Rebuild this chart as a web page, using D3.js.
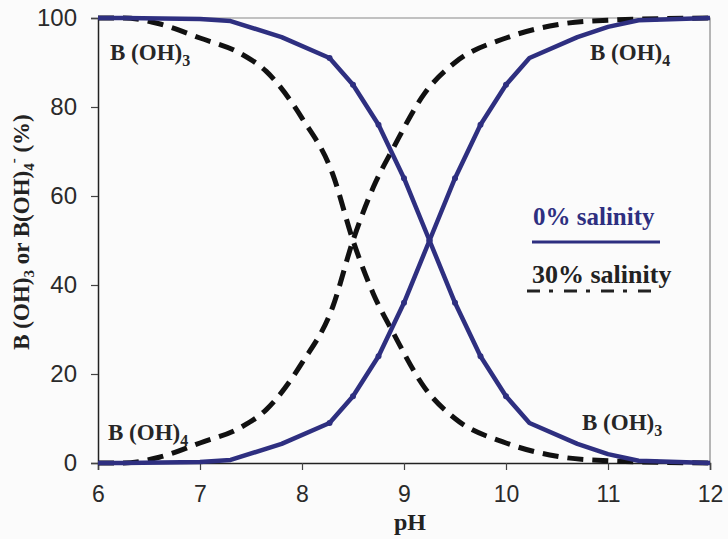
<!DOCTYPE html>
<html>
<head>
<meta charset="utf-8">
<script src="https://cdn.jsdelivr.net/npm/d3@7"></script>
<style>
  body { margin: 0; background: #fbfbfb; }
  svg { display: block; }
</style>
</head>
<body>
<div id="chart"></div>
<script>
// 0% salinity (solid) curves
var phFresh = [6, 6.25, 7.0, 7.3, 7.8, 8.27, 8.5, 8.75, 9.0, 9.25, 9.5, 9.75, 10.0, 10.23, 10.7, 11.0, 11.3, 12]
var borateFresh = [0, 0, 0.2, 0.7, 4.3, 9, 15, 24, 36, 50, 64, 76, 85, 91, 95.7, 98, 99.5, 100]
var boricFresh = [100, 100, 99.8, 99.3, 95.7, 91, 85, 76, 64, 50, 36, 24, 15, 9, 4.3, 2, 0.5, 0]

// 30% salinity (dashed) curves
var phSalt = [6, 6.25, 6.6, 7.0, 7.4, 7.65, 8.0, 8.3, 8.5, 8.7, 8.9, 9.2, 9.5, 10.0, 10.5, 11.0, 12]
var borateSalt = [0, 0, 1.3, 4.5, 8, 12, 22.5, 35, 50, 62, 71, 83, 90, 95.5, 98.5, 99.5, 100]
var boricSalt = [100, 100, 98.7, 95.5, 92, 88, 77.5, 65, 50, 38, 29, 17, 10, 4.5, 1.5, 0.5, 0]

var xTicks = [6, 7, 8, 9, 10, 11, 12]
var yTicks = [0, 20, 40, 60, 80, 100]

var width = 728, height = 539
var margin = { top: 18, left: 98, right: 18, bottom: 76 }
var navy = "#2e2f80"
var serif = "'Liberation Serif', 'Times New Roman', serif"
var sans = "'Liberation Sans', Arial, sans-serif"

var svg = d3.select("#chart").append("svg").attr("width", width).attr("height", height)

var x = d3.scaleLinear().domain([6, 12]).range([margin.left, width - margin.right])
var y = d3.scaleLinear().domain([0, 100]).range([height - margin.bottom, margin.top])

// top and right frame
svg.append("path")
    .attr("d", "M" + x(6) + "," + y(100) + "H" + x(12) + "V" + y(0))
    .attr("fill", "none").attr("stroke", "#888").attr("stroke-width", 1.2)

var xAxis = svg.append("g")
    .attr("transform", "translate(0," + y(0) + ")")
    .call(d3.axisBottom(x).tickValues(xTicks).tickSize(7).tickPadding(16).tickFormat(d3.format("d")))
var yAxis = svg.append("g")
    .attr("transform", "translate(" + x(6) + ",0)")
    .call(d3.axisLeft(y).tickValues(yTicks).tickSize(7).tickPadding(14))

;[xAxis, yAxis].forEach(function(g) {
    g.select(".domain").attr("stroke", "#222").attr("stroke-width", 1.5)
    g.selectAll(".tick line").attr("stroke", "#444").attr("stroke-width", 1.2)
    g.selectAll("text").attr("font-family", sans).attr("font-size", 23).attr("fill", "#2a2a2a")
})
yAxis.selectAll("text").attr("font-size", 24)

function series(xs, ys) {
    return xs.map(function(d, i) { return [d, ys[i]] })
}
var smooth = d3.line().x(function(d) { return x(d[0]) }).y(function(d) { return y(d[1]) })
    .curve(d3.curveMonotoneX)
var straight = d3.line().x(function(d) { return x(d[0]) }).y(function(d) { return y(d[1]) })

var plot = svg.append("g")
;[boricSalt, borateSalt].forEach(function(vals) {
    plot.append("path").datum(series(phSalt, vals))
        .attr("d", smooth).attr("fill", "none")
        .attr("stroke", "#111").attr("stroke-width", 5)
        .attr("stroke-dasharray", "16,9")
})
;[boricFresh, borateFresh].forEach(function(vals) {
    var data = series(phFresh, vals)
    plot.append("path").datum(data)
        .attr("d", straight).attr("fill", "none")
        .attr("stroke", navy).attr("stroke-width", 4.5)
        .attr("stroke-linejoin", "round")
    plot.selectAll(null).data(data.slice(5, -5)).enter().append("circle")
        .attr("cx", function(d) { return x(d[0]) })
        .attr("cy", function(d) { return y(d[1]) })
        .attr("r", 3).attr("fill", navy)
})

// species labels
function species(px, py, sub) {
    var t = svg.append("text").attr("x", px).attr("y", py)
        .attr("font-family", serif).attr("font-weight", "bold")
        .attr("font-size", 23).attr("fill", "#262626")
    t.append("tspan").text("B (OH)")
    t.append("tspan").attr("font-size", 16).attr("dy", 6).text(sub)
}
species(110, 60, "3")
species(590, 60, "4")
species(108, 440, "4")
species(582, 430, "3")

// legend
svg.append("text").attr("x", 533).attr("y", 225)
    .attr("font-family", serif).attr("font-weight", "bold").attr("font-size", 25)
    .attr("fill", navy).text("0% salinity")
svg.append("line").attr("x1", 532).attr("x2", 660).attr("y1", 242).attr("y2", 242)
    .attr("stroke", navy).attr("stroke-width", 3)
svg.append("text").attr("x", 532).attr("y", 283)
    .attr("font-family", serif).attr("font-weight", "bold").attr("font-size", 26)
    .attr("fill", "#222").text("30% salinity")
svg.append("line").attr("x1", 527).attr("x2", 657).attr("y1", 291).attr("y2", 291)
    .attr("stroke", "#222").attr("stroke-width", 3)
    .attr("stroke-dasharray", "13,9,4,11")

// axis titles
svg.append("text").attr("x", 410).attr("y", 530).attr("text-anchor", "middle")
    .attr("font-family", serif).attr("font-weight", "bold").attr("font-size", 24)
    .attr("fill", "#222").text("pH")

var yt = svg.append("text")
    .attr("transform", "translate(29,232) rotate(-90)")
    .attr("text-anchor", "middle")
    .attr("font-family", serif).attr("font-weight", "bold").attr("font-size", 23)
    .attr("fill", "#222")
yt.append("tspan").text("B (OH)")
yt.append("tspan").attr("font-size", 15).attr("dy", 5).text("3")
yt.append("tspan").attr("dy", -5).text(" or B(OH)")
yt.append("tspan").attr("font-size", 15).attr("dy", 5).text("4")
yt.append("tspan").attr("font-size", 15).attr("dy", -16).text("-")
yt.append("tspan").attr("dy", 11).text(" (%)")
</script>
</body>
</html>
